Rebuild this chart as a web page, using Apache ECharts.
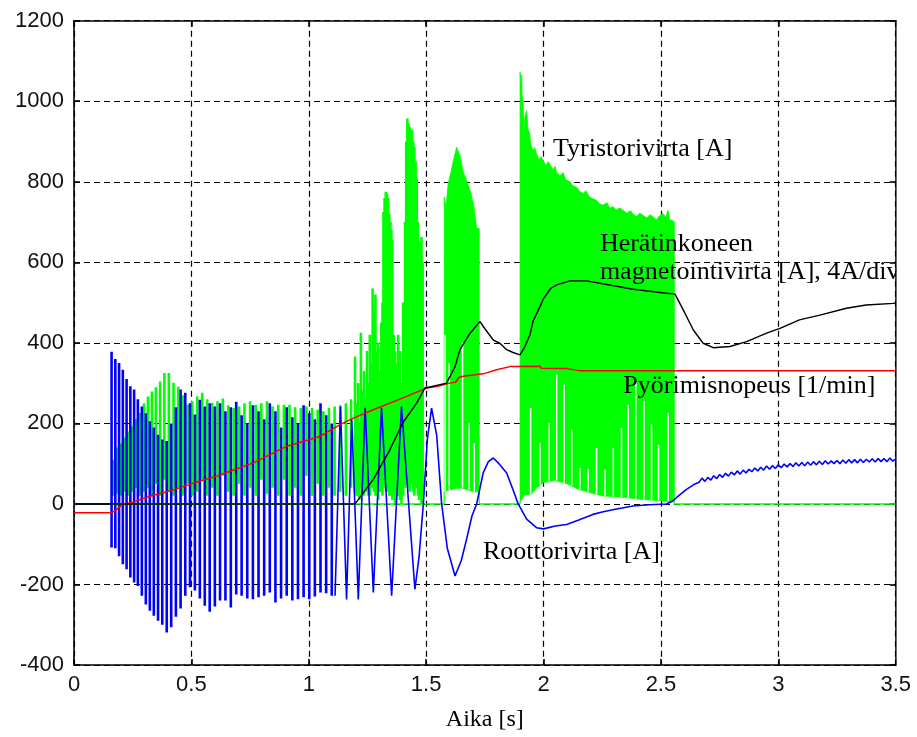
<!DOCTYPE html>
<html><head><meta charset="utf-8">
<script src="https://cdn.jsdelivr.net/npm/echarts@6/dist/echarts.min.js"></script>
<style>html,body{margin:0;padding:0;background:#fff}#c{width:917px;height:737px}</style>
</head><body><div id="c"></div>
<script>
// ---------------- data (time [s], value) ----------------
var xTicks = [0, 0.5, 1, 1.5, 2, 2.5, 3, 3.5];
var yTicks = [-400, -200, 0, 200, 400, 600, 800, 1000, 1200];

// Roottorivirta [A] (blue): fast swings drawn as [t, trough, peak]
var rotorSwings = [
[0.160,-108,378],[0.176,-110,360],[0.192,-130,350],[0.208,-150,333],[0.224,-162,310],[0.240,-183,292],[0.256,-195,284],
[0.272,-204,260],[0.289,-228,242],[0.306,-250,225],[0.323,-265,205],[0.340,-278,190],[0.358,-290,172],[0.376,-300,160],
[0.395,-319,156],[0.414,-306,200],[0.434,-280,240],[0.454,-260,284],[0.474,-228,276],[0.494,-207,250],[0.515,-215,222],
[0.536,-235,259],[0.557,-253,242],[0.578,-268,250],[0.600,-255,242],[0.622,-240,250],[0.645,-240,230],[0.668,-257,240],
[0.691,-225,254],[0.714,-228,220],[0.738,-235,200],[0.762,-237,245],[0.786,-232,230],[0.810,-228,210],[0.834,-220,250],
[0.858,-245,230],[0.882,-235,190],[0.906,-228,240],[0.930,-240,215],[0.954,-237,200],[0.978,-232,245],[1.002,-237,225],
[1.026,-230,210],[1.050,-220,250],[1.074,-222,220],[1.098,-228,200]
];
var rotorStart = [[0,0],[0.155,0]];
// Roottorivirta [A] (blue): slow part
var rotorSlow = [
[1.112,-228],[1.135,242],[1.161,-237],[1.183,209],[1.211,-237],[1.240,239],[1.275,-220],[1.310,239],[1.353,-228],[1.395,242],
[1.452,-212],[1.470,-130],[1.488,0],[1.505,160],[1.523,238],[1.545,170],[1.566,0],[1.590,-110],[1.623,-179],[1.650,-140],
[1.672,-88],[1.695,-30],[1.715,0],[1.743,77],[1.765,105],[1.786,114],[1.810,100],[1.843,77],[1.870,35],[1.892,0],
[1.928,-38],[1.970,-59],[2.000,-62],[2.050,-55],[2.098,-51],[2.150,-40],[2.210,-26],[2.250,-20],[2.300,-14],[2.380,-5],
[2.450,-2],[2.524,0],[2.552,8],[2.567,16],[2.609,36],[2.640,48],[2.6625,54],[2.675,64],[2.6875,56],[2.700,66],
[2.7125,59],[2.725,70],[2.7375,63],[2.750,73],[2.7625,66],[2.775,76],[2.7875,69],[2.800,79],[2.8125,72],[2.825,82],
[2.8375,74],[2.850,84],[2.8625,77],[2.875,86],[2.8875,80],[2.900,89],[2.9125,82],[2.925,91],[2.9375,84],[2.950,94],
[2.9625,86],[2.975,95],[2.9875,88],[3.000,97],[3.0125,90],[3.025,99],[3.0375,92],[3.050,100],[3.0625,93],[3.075,102],
[3.0875,94],[3.100,103],[3.1125,95],[3.125,104],[3.1375,96],[3.150,105],[3.1625,97],[3.175,106],[3.1875,98],[3.200,107],
[3.2125,99],[3.225,107],[3.2375,100],[3.250,108],[3.2625,100],[3.275,109],[3.2875,101],[3.300,110],[3.3125,102],[3.325,110],
[3.3375,102],[3.350,111],[3.3625,103],[3.375,111],[3.3875,104],[3.400,112],[3.4125,104],[3.425,113],[3.4375,105],[3.450,113],
[3.4625,105],[3.475,114],[3.4875,106],[3.500,112]
];

// Tyristorivirta [A] (green): conduction pulses [t, low, peak]
var thyristorPulses = [
[0.165,20,110],[0.184,25,140],[0.200,20,150],[0.216,30,165],[0.232,20,180],[0.248,30,193],[0.264,40,210],[0.281,20,226],
[0.298,30,250],[0.315,40,267],[0.332,20,279],[0.349,50,290],[0.367,20,304],[0.385,60,325],[0.404,30,325],[0.424,20,301],
[0.444,40,291],[0.464,20,270],[0.484,50,246],[0.504,20,255],[0.525,30,267],[0.546,60,276],[0.567,20,260],[0.589,40,251],
[0.611,20,255],[0.634,70,262],[0.657,30,245],[0.680,20,238],[0.703,50,242],[0.726,20,250],[0.750,40,255],[0.774,20,246],
[0.798,60,250],[0.822,25,255],[0.846,40,242],[0.870,20,246],[0.894,60,246],[0.918,20,246],[0.942,40,240],[0.966,20,238],
[0.990,70,242],[1.014,20,238],[1.038,50,234],[1.062,20,230],[1.086,40,238],[1.110,20,242],[1.134,30,245],[1.158,20,250],
[1.180,40,260],
[1.197,30,366],[1.203,20,250],[1.210,20,300],[1.216,10,200],[1.222,40,425],[1.228,20,280],[1.235,20,330],[1.241,30,260],
[1.248,30,380],[1.254,20,300],[1.260,20,420],[1.266,40,350],[1.272,40,535],[1.278,30,480],[1.284,20,520],[1.290,20,380],
[1.296,10,400],[1.302,30,330],[1.309,30,450],[1.314,20,500],[1.318,60,725],[1.323,40,760],[1.328,50,775],[1.333,30,770],
[1.338,40,760],[1.343,20,720],[1.348,20,700],[1.352,30,680],[1.356,10,655],[1.362,20,420],[1.368,0,380],[1.374,30,350],
[1.381,20,420],[1.388,10,380],[1.395,0,300],[1.402,20,500],[1.410,40,700],[1.415,50,900],[1.420,60,957],[1.425,40,945],
[1.430,30,936],[1.435,50,930],[1.440,50,928],[1.445,30,900],[1.450,20,886],[1.455,40,850],[1.460,40,809],[1.465,20,700],
[1.470,10,639],[1.475,20,650],[1.480,0,663],[1.485,10,600]
];
// Tyristorivirta zero stretches
var thyristorZero1 = [[0,0],[1.577,0]];
var thyristorZero2 = [[1.726,0],[1.900,0]];
var thyristorZero3 = [[2.557,0],[3.5,0]];

// burst 1.577 .. 1.726 s : envelope
var burstTop = [
[1.577,0],[1.577,762],[1.585,740],[1.594,796],[1.606,824],[1.616,853],[1.630,886],[1.637,875],[1.644,866],[1.658,824],
[1.672,804],[1.687,779],[1.701,746],[1.712,700],[1.715,684],[1.726,684],[1.726,0]
];
var burstBase = [[1.577,30],[1.600,35],[1.650,40],[1.700,30],[1.726,30]];

// dense conduction block 1.90 .. 2.557 s : envelope
var blockTop = [
[1.900,0],[1.900,1072],[1.904,1040],[1.907,1065],[1.909,1010],[1.913,1000],[1.916,903],[1.920,960],[1.928,977],[1.934,930],
[1.940,923],[1.947,890],[1.955,877],[1.962,885],[1.970,870],[1.980,855],[1.990,862],[1.998,853],[2.010,840],[2.020,850],
[2.026,845],[2.040,830],[2.050,838],[2.055,824],[2.070,815],[2.083,823],[2.095,805],[2.112,800],[2.125,790],[2.140,787],
[2.155,775],[2.170,771],[2.180,778],[2.196,762],[2.210,758],[2.225,754],[2.240,745],[2.253,742],[2.270,748],[2.283,735],
[2.296,738],[2.310,730],[2.325,735],[2.339,729],[2.355,722],[2.370,728],[2.380,721],[2.395,714],[2.410,722],[2.424,717],
[2.440,710],[2.453,718],[2.466,713],[2.480,706],[2.495,716],[2.509,721],[2.520,712],[2.530,729],[2.538,705],[2.545,705],
[2.557,700],[2.557,0]
];
var blockBase = [
[1.900,5],[1.920,23],[1.950,25],[1.970,40],[2.000,53],[2.050,58],[2.100,50],[2.150,36],[2.200,28],[2.250,20],
[2.300,18],[2.350,16],[2.400,12],[2.450,10],[2.500,8],[2.557,5]
];
// white gaps inside the green areas [t, from, to]
var greenGaps = [
[1.581,30,420],[1.598,35,350],[1.655,40,400],[1.683,35,200],[1.705,30,150],
[1.945,25,238],[1.985,48,152],[2.024,55,201],[2.056,58,321],[2.088,52,296],[2.120,45,185],[2.155,36,90],[2.190,30,88],
[2.226,24,139],[2.262,20,85],[2.297,18,139],[2.332,17,189],[2.361,15,246],[2.393,12,304],[2.428,11,255],[2.460,10,198],
[2.490,9,147],[2.531,7,226]
];

// Pyörimisnopeus [1/min] (red)
var speed = [
[0,-22],[0.160,-22],[0.182,-14],[0.203,-3],[0.253,5],[0.324,19],[0.395,30],[0.466,43],[0.537,57],[0.608,69],
[0.664,81],[0.764,102],[0.906,143],[1.005,160],[1.048,168],[1.133,197],[1.190,213],[1.275,234],[1.417,267],[1.502,288],
[1.550,292],[1.600,300],[1.625,302],[1.640,314],[1.658,317],[1.743,323],[1.800,333],[1.857,341],[1.985,342],[1.990,337],
[2.100,336],[2.150,331],[3.500,331]
];

// Herätinkoneen magnetointivirta (black)
var excitation = [
[0,0],[1.197,0],[1.275,61],[1.346,135],[1.400,201],[1.460,251],[1.495,288],[1.520,291],[1.587,300],[1.600,315],
[1.623,341],[1.644,383],[1.687,424],[1.729,453],[1.750,435],[1.786,407],[1.814,399],[1.843,383],[1.870,376],[1.900,370],
[1.920,390],[1.942,420],[1.956,455],[1.985,490],[2.000,510],[2.030,535],[2.056,544],[2.112,554],[2.183,554],[2.240,548],
[2.382,533],[2.524,523],[2.560,521],[2.595,482],[2.638,432],[2.680,399],[2.723,388],[2.794,391],[2.865,403],[2.950,424],
[3.007,436],[3.090,457],[3.177,469],[3.290,486],[3.374,494],[3.490,498],[3.500,499]
];

var labels = [
  {text:'Tyristorivirta [A]', t:2.04, v:880},
  {text:'Herätinkoneen', t:2.24, v:645},
  {text:'magnetointivirta [A], 4A/div', t:2.24, v:575},
  {text:'Pyörimisnopeus [1/min]', t:2.34, v:292},
  {text:'Roottorivirta [A]', t:1.742, v:-120}
];

// ---------------- chart ----------------
var chart = echarts.init(document.getElementById('c'), null, {renderer:'canvas'});
var sans = '"Liberation Sans", Arial, sans-serif';
var serif = '"Liberation Serif", "Times New Roman", serif';
var frame = {color:'#000', width:1.6};
var GREEN = '#00ff00', BLUE = '#0000ff';

function lineSeries(data, color, w) {
  return {type:'line', data:data, symbol:'none', showSymbol:false, animation:false, silent:true,
    lineStyle:{color:color, width:w}, itemStyle:{color:color}, clip:true, connectNulls:false};
}
function stemSeries(data, color, w) {
  return {type:'custom', data:data, animation:false, silent:true, clip:true, encode:{x:0, y:[1,2]},
    renderItem:function(params, api){
      var a = api.coord([api.value(0), api.value(1)]);
      var b = api.coord([api.value(0), api.value(2)]);
      return {type:'line', shape:{x1:a[0], y1:a[1], x2:b[0], y2:b[1]}, style:{stroke:color, lineWidth:w}};
    }};
}
function areaSeries(top, base, color) {
  return {type:'custom', data:top, animation:false, silent:true, clip:true, encode:{x:0, y:1},
    renderItem:function(params, api){
      if (params.dataIndex !== 0) return null;
      var pts = [], i;
      for (i = 0; i < top.length; i++) pts.push(api.coord(top[i]));
      for (i = base.length - 1; i >= 0; i--) pts.push(api.coord(base[i]));
      return {type:'polygon', shape:{points:pts}, style:{fill:color, stroke:color, lineWidth:0.8}};
    }};
}

function xAx(pos, main) {
  return {type:'value', min:xTicks[0], max:xTicks[xTicks.length-1], interval:0.5, position:pos,
    axisLine:{show:true, onZero:false, lineStyle:frame},
    axisTick:{show:true, inside:true, length:6, lineStyle:frame},
    axisLabel:{show:main, color:'#111', fontSize:22, fontFamily:sans, margin:9},
    splitLine:{show:main, lineStyle:{color:'#000', type:[6,4], width:1.2}},
    name: main ? 'Aika [s]' : '', nameLocation:'middle', nameGap:43,
    nameTextStyle:{fontFamily:serif, fontSize:24, color:'#000'}};
}
function yAx(pos, main) {
  return {type:'value', min:yTicks[0], max:yTicks[yTicks.length-1], interval:200, position:pos,
    axisLine:{show:true, onZero:false, lineStyle:frame},
    axisTick:{show:true, inside:true, length:6, lineStyle:frame},
    axisLabel:{show:main, color:'#111', fontSize:22, fontFamily:sans, margin:10,
      formatter:function(v){return String(v);}},
    splitLine:{show:main, lineStyle:{color:'#000', type:[6,4], width:1.2}}};
}

var option = {
  backgroundColor:'#fff',
  animation:false,
  grid:{left:74, right:21.3, top:20.7, bottom:70.3, containLabel:false},
  xAxis:[xAx('bottom', true), xAx('top', false)],
  yAxis:[yAx('left', true), yAx('right', false)],
  series:[
    lineSeries(thyristorZero1, GREEN, 1.5),
    lineSeries(thyristorZero2, GREEN, 1.5),
    lineSeries(thyristorZero3, GREEN, 1.5),
    stemSeries(thyristorPulses, GREEN, 2.6),
    areaSeries(burstTop, burstBase, GREEN),
    areaSeries(blockTop, blockBase, GREEN),
    stemSeries(greenGaps, '#ffffff', 1.5),
    lineSeries(rotorStart, BLUE, 1.5),
    stemSeries(rotorSwings, BLUE, 2.6),
    lineSeries(rotorSlow, BLUE, 1.6),
    lineSeries(speed, '#ff0000', 1.5),
    lineSeries(excitation, '#000000', 1.4)
  ]
};
chart.setOption(option);

// annotations positioned through the axes' own scales
var g = labels.map(function(l){
  var p = chart.convertToPixel({gridIndex:0}, [l.t, l.v]);
  return {type:'text', x:p[0], y:p[1], z:100,
    style:{text:l.text, fill:'#000', font:'26px ' + serif, align:'left', verticalAlign:'middle'}};
});
var r0 = chart.convertToPixel({gridIndex:0}, [3.5, 1200]);
var r1 = chart.convertToPixel({gridIndex:0}, [3.5, -400]);
g.push({type:'rect', z:101, shape:{x:r0[0]+1, y:r0[1], width:30, height:r1[1]-r0[1]}, style:{fill:'#fff'}});
chart.setOption({graphic:g});
</script></body></html>
